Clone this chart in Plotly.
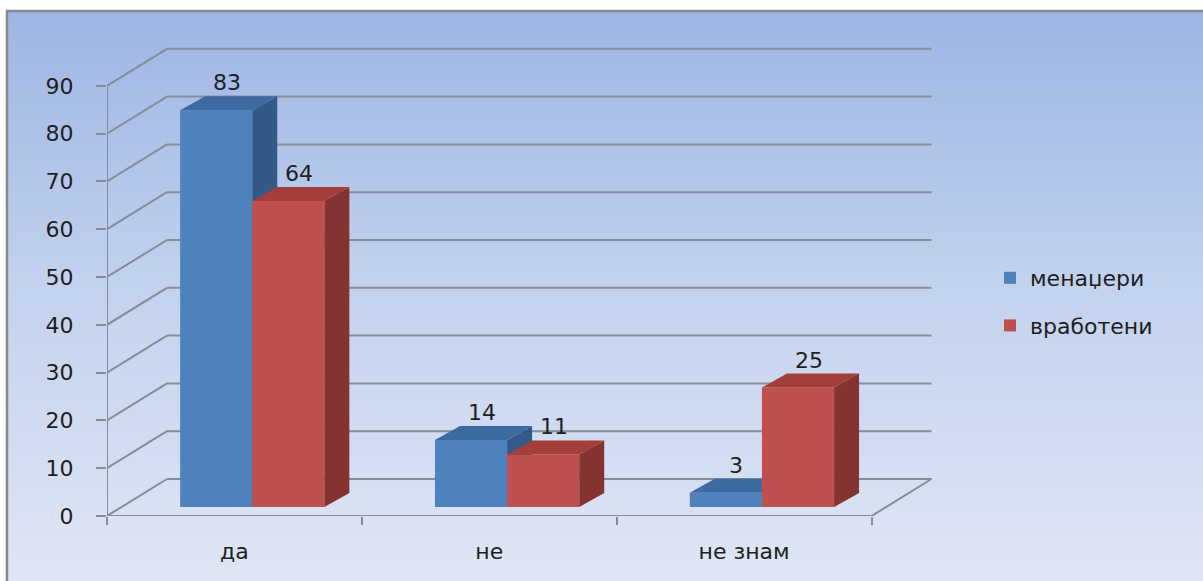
import plotly.graph_objects as go

# ---- data ----
categories = ["да", "не", "не знам"]
series_names = ["менаџери", "вработени"]
managers = [83, 14, 3]
employees = [64, 11, 25]
y_tick_values = [0, 10, 20, 30, 40, 50, 60, 70, 80, 90]

# ---- pseudo-3D geometry (data units: categories on x, values on y) ----
X_MAX = 3.3
Y_MAX = 100
WALL_DX, WALL_DY = 0.2353, 7.74      # depth of the back wall
FRONT_DX, FRONT_DY = 0.07, 1.88      # where the bar fronts sit inside the box
BAR_DX, BAR_DY = 0.098, 2.93         # depth of each bar
BAR_W = 0.283

FONT = "DejaVu Sans"
FS = 22
TEXT = "#1e1e1e"
GRID = "#858d97"

front_colors = ["#4f81bd", "#c0504d"]
top_colors = ["#3d6aa1", "#a43e3a"]
side_colors = ["#345887", "#853331"]

W, H = 1203, 581
M_L, M_R, M_T, M_B = 107, 255, 38, 65
plot_w = W - M_L - M_R
plot_h = H - M_T - M_B


def px_to_paper_x(px):
    return (px - M_L) / plot_w


def px_to_paper_y(py):
    return (H - M_B - py) / plot_h


fig = go.Figure()

# ---- bars with side and top faces; the second series lives on an overlay axis pair ----
all_series = [managers, employees]
for k, values in enumerate(all_series):
    xa = "x" if k == 0 else "x2"
    ya = "y" if k == 0 else "y2"
    x0s = [i + 0.5 - BAR_W + k * BAR_W + FRONT_DX for i in range(len(categories))]
    centers = [x0 + BAR_W / 2 for x0 in x0s]

    fig.add_trace(go.Bar(
        x=centers, y=values, base=[FRONT_DY] * len(values), width=[BAR_W] * len(values),
        marker=dict(color=front_colors[k], line=dict(width=0)),
        name=series_names[k], legendgroup=series_names[k],
        xaxis=xa, yaxis=ya, hoverinfo="skip",
    ))

    side_x, side_y, top_x, top_y = [], [], [], []
    for x0, v in zip(x0s, values):
        x1 = x0 + BAR_W
        b = FRONT_DY
        t = FRONT_DY + v
        side_x += [x1, x1 + BAR_DX, x1 + BAR_DX, x1, x1, None]
        side_y += [b, b + BAR_DY, t + BAR_DY, t, b, None]
        top_x += [x0, x0 + BAR_DX, x1 + BAR_DX, x1, x0, None]
        top_y += [t, t + BAR_DY, t + BAR_DY, t, t, None]

    fig.add_trace(go.Scatter(
        x=side_x, y=side_y, mode="lines", fill="toself",
        fillcolor=side_colors[k], line=dict(width=0, color=side_colors[k]),
        showlegend=False, hoverinfo="skip", xaxis=xa, yaxis=ya,
    ))
    fig.add_trace(go.Scatter(
        x=top_x, y=top_y, mode="lines", fill="toself",
        fillcolor=top_colors[k], line=dict(width=0, color=top_colors[k]),
        showlegend=False, hoverinfo="skip", xaxis=xa, yaxis=ya,
    ))

    for c, v in zip(centers, values):
        fig.add_annotation(
            x=c + 0.42 * BAR_DX, y=FRONT_DY + v + BAR_DY,
            xref="x", yref="y", text=str(v), showarrow=False,
            yanchor="bottom", yshift=-1, font=dict(family=FONT, size=FS, color=TEXT),
        )

# ---- background gradient and frame ----
shapes = []
stops = [(11, (157, 181, 228)), (290, (195, 210, 238)), (581, (224, 230, 244))]
band = 4
py = 11
while py < H:
    mid = py + band / 2
    for (p0, c0), (p1, c1) in zip(stops[:-1], stops[1:]):
        if p0 <= mid <= p1:
            f = (mid - p0) / (p1 - p0)
            col = tuple(round(a + (b - a) * f) for a, b in zip(c0, c1))
            break
    shapes.append(dict(
        type="rect", xref="paper", yref="paper", layer="below",
        x0=px_to_paper_x(7), x1=px_to_paper_x(1215),
        y0=px_to_paper_y(py + band + 0.5), y1=px_to_paper_y(py),
        fillcolor="rgb(%d,%d,%d)" % col, line=dict(width=0),
    ))
    py += band

shapes.append(dict(
    type="rect", xref="paper", yref="paper", layer="below",
    x0=px_to_paper_x(7), x1=px_to_paper_x(1220),
    y0=px_to_paper_y(600), y1=px_to_paper_y(11),
    line=dict(color="#888888", width=2.5),
))

# ---- back wall, side wall and floor lines ----
n_cat = len(categories)
line_style = dict(color=GRID, width=2)
for v in y_tick_values:
    shapes.append(dict(type="line", xref="x", yref="y", layer="below",
                       x0=WALL_DX, y0=v + WALL_DY, x1=n_cat + WALL_DX, y1=v + WALL_DY,
                       line=line_style))
    shapes.append(dict(type="line", xref="x", yref="y", layer="below",
                       x0=0, y0=v, x1=WALL_DX, y1=v + WALL_DY, line=line_style))
shapes.append(dict(type="line", xref="x", yref="y", layer="below",
                   x0=0, y0=0, x1=0, y1=y_tick_values[-1], line=line_style))
shapes.append(dict(type="line", xref="x", yref="y", layer="below",
                   x0=0, y0=0, x1=n_cat, y1=0, line=line_style))
shapes.append(dict(type="line", xref="x", yref="y", layer="below",
                   x0=n_cat, y0=0, x1=n_cat + WALL_DX, y1=WALL_DY, line=line_style))

fig.update_layout(
    width=W, height=H,
    margin=dict(l=M_L, r=M_R, t=M_T, b=M_B, pad=0),
    paper_bgcolor="white", plot_bgcolor="rgba(0,0,0,0)",
    shapes=shapes,
    barmode="overlay",
    font=dict(family=FONT, size=FS, color=TEXT),
    xaxis=dict(
        range=[0, X_MAX], showgrid=False, zeroline=False, showline=False,
        tickmode="array", tickvals=[i + 0.5 for i in range(n_cat)], ticktext=categories,
        ticks="", ticklabelstandoff=20,
        tickfont=dict(family=FONT, size=FS, color=TEXT),
        minor=dict(tickmode="array", tickvals=list(range(n_cat + 1)), ticks="outside",
                   ticklen=8, tickwidth=2, tickcolor=GRID, showgrid=False),
        fixedrange=True,
    ),
    yaxis=dict(
        range=[0, Y_MAX], showgrid=False, zeroline=False, showline=False,
        tickmode="array", tickvals=y_tick_values, ticks="outside", ticklen=10,
        tickwidth=2, tickcolor=GRID, ticklabelstandoff=18,
        tickfont=dict(family=FONT, size=FS, color=TEXT),
        fixedrange=True,
    ),
    xaxis2=dict(range=[0, X_MAX], overlaying="x", visible=False, fixedrange=True),
    yaxis2=dict(range=[0, Y_MAX], overlaying="y", visible=False, fixedrange=True),
    legend=dict(
        x=px_to_paper_x(990), xanchor="left",
        y=px_to_paper_y(257), yanchor="top",
        bgcolor="rgba(0,0,0,0)", borderwidth=0,
        font=dict(family=FONT, size=FS, color=TEXT),
        tracegroupgap=16, traceorder="grouped",
    ),
    showlegend=True,
)

fig.write_html("out.html")
